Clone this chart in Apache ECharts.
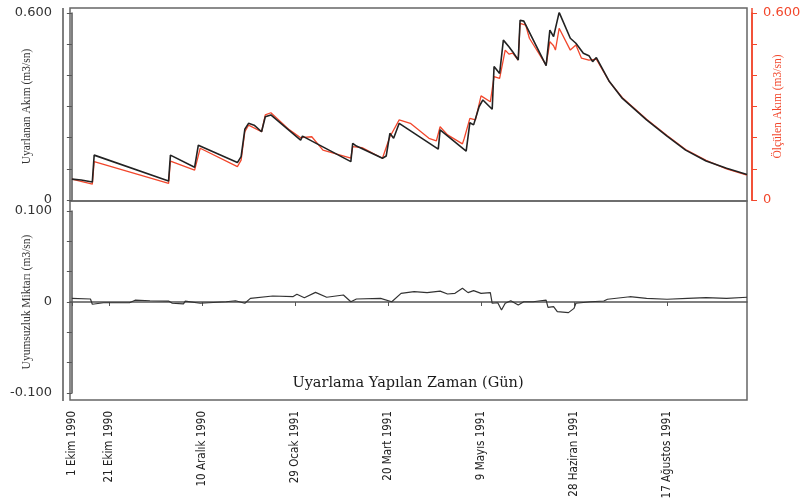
<!DOCTYPE html>
<html>
<head>
<meta charset="utf-8">
<script src="https://cdn.jsdelivr.net/npm/echarts@6/dist/echarts.min.js"></script>
<style>
  html, body { margin: 0; padding: 0; background: #fff; }
  #chart { width: 807px; height: 499px; }
</style>
</head>
<body>
<div id="chart"></div>
<script>
// gün (1 Ekim 1990 = 0) ve tarih etiketleri
const tickDays = [0, 20, 70, 120, 170, 220, 270, 320]
const tickLabels = ['1 Ekim 1990', '21 Ekim 1990', '10 Aralık 1990', '29 Ocak 1991', '20 Mart 1991', '9 Mayıs 1991', '28 Haziran 1991', '17 Ağustos 1991']

// uyarlanan akım (siyah)
const simDays = [0, 5, 11, 12, 52, 53, 66, 68, 89, 91, 93, 95, 98, 102, 104, 107, 123, 124, 150, 151, 153, 167, 169, 171, 173, 176, 197, 198, 212, 214, 216, 219, 221, 226, 227, 230, 232, 235, 237, 240, 241, 243, 255, 257, 259, 260, 262, 268, 271, 275, 278, 280, 282, 289, 296, 309, 320, 330, 341, 352, 363]
const simFlow = [0.067, 0.064, 0.058, 0.144, 0.061, 0.144, 0.105, 0.176, 0.120, 0.139, 0.227, 0.246, 0.240, 0.219, 0.267, 0.273, 0.192, 0.205, 0.123, 0.182, 0.173, 0.134, 0.141, 0.214, 0.198, 0.246, 0.163, 0.225, 0.157, 0.248, 0.241, 0.300, 0.321, 0.291, 0.428, 0.406, 0.513, 0.492, 0.476, 0.449, 0.577, 0.574, 0.431, 0.545, 0.524, 0.519, 0.602, 0.519, 0.503, 0.471, 0.463, 0.444, 0.457, 0.380, 0.326, 0.257, 0.205, 0.160, 0.125, 0.102, 0.082]

// ölçülen akım (kırmızı)
const obsDays = [0, 11, 12, 52, 53, 66, 69, 89, 91, 93, 95, 102, 104, 107, 117, 123, 129, 135, 150, 151, 156, 167, 171, 176, 182, 192, 196, 198, 202, 210, 211, 214, 217, 220, 225, 227, 230, 233, 235, 237, 240, 241, 244, 246, 255, 257, 259, 260, 262, 268, 271, 274, 278, 282, 289, 296, 309, 320, 330, 341, 352, 363]
const obsFlow = [0.067, 0.051, 0.123, 0.053, 0.125, 0.096, 0.166, 0.107, 0.128, 0.219, 0.240, 0.219, 0.273, 0.280, 0.225, 0.200, 0.203, 0.160, 0.134, 0.171, 0.168, 0.134, 0.203, 0.257, 0.246, 0.198, 0.190, 0.235, 0.209, 0.180, 0.198, 0.262, 0.257, 0.334, 0.315, 0.396, 0.390, 0.481, 0.468, 0.471, 0.449, 0.567, 0.561, 0.519, 0.433, 0.508, 0.495, 0.481, 0.551, 0.481, 0.497, 0.455, 0.449, 0.452, 0.380, 0.328, 0.259, 0.207, 0.162, 0.127, 0.100, 0.080]

// uyumsuzluk miktarı
const diffDays = [0, 10, 11, 17, 31, 34, 42, 52, 54, 60, 61, 69, 83, 88, 93, 96, 108, 119, 121, 125, 131, 137, 146, 150, 153, 166, 172, 177, 184, 191, 198, 202, 206, 210, 213, 216, 220, 225, 226, 229, 231, 233, 236, 237, 240, 243, 248, 252, 255, 256, 259, 261, 262, 267, 270, 271, 279, 286, 288, 300, 309, 320, 331, 341, 352, 363]
const diffVals = [0.0040, 0.0033, -0.0025, -0.0008, -0.0008, 0.0020, 0.0014, 0.0010, -0.0014, -0.0020, 0.0010, -0.0014, 0.0003, 0.0014, -0.0014, 0.0040, 0.0066, 0.0060, 0.0085, 0.0047, 0.0106, 0.0052, 0.0077, 0.0003, 0.0033, 0.0040, 0.0003, 0.0095, 0.0113, 0.0103, 0.0120, 0.0088, 0.0095, 0.0150, 0.0103, 0.0125, 0.0095, 0.0103, -0.0014, -0.0008, -0.0088, -0.0014, 0.0014, 0.0033, -0.0033, 0.0003, 0.0003, 0.0014, 0.0020, -0.0059, -0.0051, -0.0106, -0.0125, -0.0117, -0.0070, -0.0014, 0.0003, 0.0011, 0.0030, 0.0058, 0.0040, 0.0030, 0.0040, 0.0047, 0.0040, 0.0052]

const RED = '#f2472c'
const AXIS = '#555'
const zip = (a, b) => a.map((d, i) => [d, b[i]])

const chart = echarts.init(document.getElementById('chart'))

const nameStyle = { fontFamily: 'Liberation Serif', fontSize: 11.5, color: '#333' }
const tickFont = { fontFamily: 'DejaVu Sans', fontSize: 13, color: '#333' }
const topFmt = v => Math.abs(v - 0.6) < 1e-6 ? '0.600' : (Math.abs(v) < 1e-6 ? '0' : '')

const option = {
    animation: false,
    grid: [
        { left: 70, width: 677, top: 13, height: 187, outerBoundsMode: 'none' },
        { left: 70, width: 677, top: 211, height: 182, outerBoundsMode: 'none' }
    ],
    xAxis: [
        { gridIndex: 0, type: 'value', min: -1, max: 363, show: false },
        {
            gridIndex: 1, type: 'value', min: -1, max: 363, offset: 12,
            axisLine: { show: true, lineStyle: { color: AXIS, width: 1.5 } },
            axisTick: { show: true, length: 4, customValues: tickDays, lineStyle: { color: AXIS } },
            axisLabel: {
                customValues: tickDays, rotate: 90, margin: 6,
                fontFamily: 'DejaVu Sans Condensed, sans-serif', fontSize: 11.5, color: '#222',
                formatter: v => tickLabels[tickDays.indexOf(v)] || ''
            },
            splitLine: { show: false }
        }
    ],
    yAxis: [
        {
            gridIndex: 0, min: 0, max: 0.6, interval: 0.1, position: 'left', offset: 7,
            name: 'Uyarlanan Akım (m3/sn)', nameLocation: 'middle', nameGap: 30, nameRotate: 90, nameMoveOverlap: false,
            nameTextStyle: nameStyle,
            axisLine: { show: true, lineStyle: { color: AXIS, width: 1.5 } },
            axisTick: { show: true, length: 5, lineStyle: { color: AXIS } },
            axisLabel: Object.assign({ margin: 11, formatter: topFmt }, tickFont),
            splitLine: { show: false }
        },
        {
            gridIndex: 0, min: 0, max: 0.6, interval: 0.1, position: 'right', offset: 5,
            name: 'Ölçülen Akım (m3/sn)', nameLocation: 'middle', nameGap: 20, nameRotate: 90, nameMoveOverlap: false,
            nameTextStyle: Object.assign({}, nameStyle, { color: RED }),
            axisLine: { show: true, lineStyle: { color: RED, width: 1.5 } },
            axisTick: { show: true, length: 5, lineStyle: { color: RED } },
            axisLabel: Object.assign({}, tickFont, { color: RED, margin: 11, formatter: topFmt }),
            splitLine: { show: false }
        },
        {
            gridIndex: 1, min: -0.1, max: 0.1, interval: 0.1 / 3, position: 'left', offset: 7,
            name: 'Uyumsuzluk Miktarı (m3/sn)', nameLocation: 'middle', nameGap: 30, nameRotate: 90, nameMoveOverlap: false,
            nameTextStyle: nameStyle,
            axisLine: { show: true, lineStyle: { color: AXIS, width: 1.5 } },
            axisTick: { show: true, length: 5, lineStyle: { color: AXIS } },
            axisLabel: Object.assign({
                margin: 11,
                formatter: v => Math.abs(v - 0.1) < 1e-6 ? '0.100' : (Math.abs(v + 0.1) < 1e-6 ? '-0.100' : (Math.abs(v) < 1e-6 ? '0' : ''))
            }, tickFont),
            splitLine: { show: false }
        }
    ],
    graphic: [
        // çerçeveler ve eksen çizgilerinin uzantıları
        { type: 'rect', shape: { x: 70, y: 8, width: 677, height: 193 }, style: { fill: null, stroke: '#666', lineWidth: 1.5 }, z: 0 },
        { type: 'rect', shape: { x: 70, y: 201, width: 677, height: 199 }, style: { fill: null, stroke: '#666', lineWidth: 1.5 }, z: 0 },
        { type: 'line', shape: { x1: 63, y1: 8, x2: 63, y2: 401 }, style: { stroke: AXIS, lineWidth: 1.5 }, z: 0 },
        { type: 'line', shape: { x1: 752, y1: 8, x2: 752, y2: 201 }, style: { stroke: RED, lineWidth: 1.5 }, z: 0 },
        {
            type: 'text', x: 408, y: 383,
            style: { text: 'Uyarlama Yapılan Zaman (Gün)', fontFamily: 'DejaVu Serif', fontSize: 14.5, fill: '#1a1a1a', align: 'center', verticalAlign: 'middle' }
        }
    ],
    series: [
        {
            name: 'Ölçülen', type: 'line', xAxisIndex: 0, yAxisIndex: 1,
            data: zip(obsDays, obsFlow), showSymbol: false,
            lineStyle: { color: RED, width: 1.3 }
        },
        {
            name: 'Uyarlanan', type: 'line', xAxisIndex: 0, yAxisIndex: 0,
            data: zip(simDays, simFlow), showSymbol: false,
            lineStyle: { color: '#222', width: 1.6 }
        },
        {
            name: 'Uyumsuzluk', type: 'line', xAxisIndex: 1, yAxisIndex: 2,
            data: zip(diffDays, diffVals), showSymbol: false,
            lineStyle: { color: '#333', width: 1.2 }
        }
    ]
}

chart.setOption(option)
</script>
</body>
</html>
